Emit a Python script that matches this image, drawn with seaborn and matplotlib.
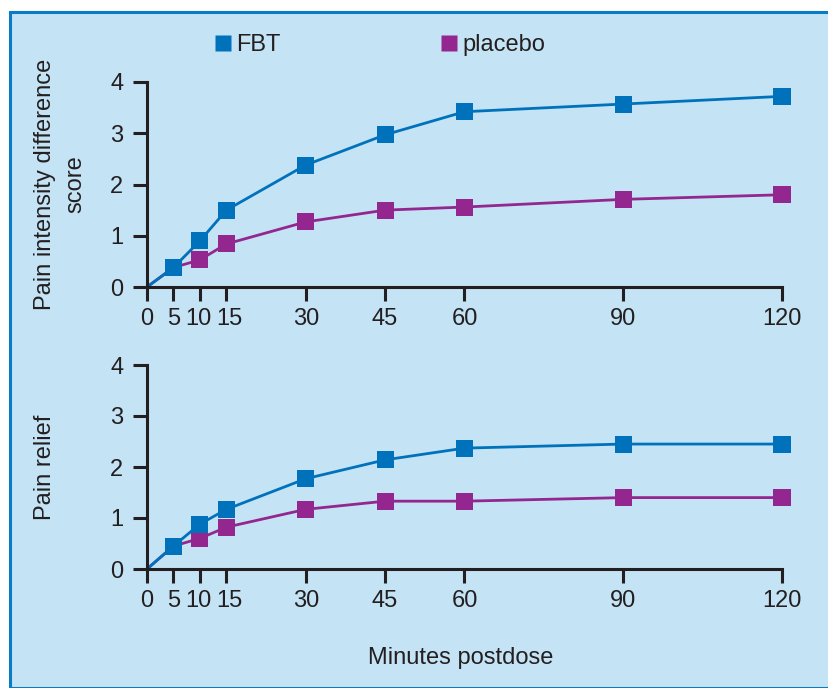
import pandas as pd
import numpy as np
import matplotlib
matplotlib.use("Agg")
import matplotlib.pyplot as plt
import matplotlib.transforms as mtransforms
from matplotlib.patches import Rectangle
from matplotlib.lines import Line2D
import seaborn as sns

minutes = [0, 5, 10, 15, 30, 45, 60, 90, 120]
pid_fbt = [0, 0.38, 0.9, 1.5, 2.38, 2.97, 3.42, 3.57, 3.72]
pid_placebo = [0, 0.38, 0.53, 0.84, 1.27, 1.5, 1.56, 1.71, 1.8]
relief_fbt = [0, 0.45, 0.88, 1.17, 1.77, 2.14, 2.37, 2.45, 2.45]
relief_placebo = [0, 0.45, 0.6, 0.82, 1.17, 1.33, 1.33, 1.4, 1.4]
groups = ["placebo", "FBT"]
yticks = [0, 1, 2, 3, 4]

blue = "#0072bc"
purple = "#93278f"
bg = "#c4e3f5"
ink = "#231f20"
palette = {"FBT": blue, "placebo": purple}
FS = 17

sns.set_style("white")
plt.rcParams['font.family'] = ['Liberation Sans', 'DejaVu Sans']
plt.rcParams['text.color'] = ink
plt.rcParams['axes.labelcolor'] = ink

def long_df(fbt, plc):
    return pd.DataFrame({
        "minutes": minutes * 2,
        "score": plc + fbt,
        "group": ["placebo"] * len(minutes) + ["FBT"] * len(minutes),
    })

df_pid = long_df(pid_fbt, pid_placebo)
df_rel = long_df(relief_fbt, relief_placebo)

fig = plt.figure(figsize=(8.29, 6.88), dpi=100)
fig.patch.set_facecolor("white")
W, H = 829, 688
fig.add_artist(Rectangle((10 / W, 0), 1, 1 - 12 / H, transform=fig.transFigure,
                         facecolor=bg, edgecolor="#0a7cc6", lw=2.2, zorder=0))

ax1 = fig.add_axes([147 / W, 1 - 287 / H, (782 - 147) / W, (287 - 82) / H])
ax2 = fig.add_axes([147 / W, 1 - 569 / H, (782 - 147) / W, (569 - 365) / H])

for ax, df, lab in [(ax1, df_pid, "Pain intensity difference\nscore"),
                    (ax2, df_rel, "Pain relief")]:
    ax.set_facecolor("none")
    sns.lineplot(data=df, x="minutes", y="score", hue="group", hue_order=groups,
                 palette=palette, lw=2, legend=False, ax=ax)
    sns.scatterplot(data=df[df.minutes > 0], x="minutes", y="score", hue="group",
                    hue_order=groups, palette=palette, marker="s", s=150,
                    linewidth=0, legend=False, ax=ax, clip_on=False, zorder=5)
    ax.set_xlim(0, 120)
    ax.set_ylim(0, 4)
    ax.set_xticks(minutes)
    ax.set_yticks(yticks)
    ax.set_xlabel("")
    ax.set_ylabel(lab, fontsize=FS, linespacing=1.5)
    ax.tick_params(axis="both", direction="out", length=10, width=2.2, color=ink,
                   labelsize=FS, labelcolor=ink, bottom=True, left=True)
    ax.tick_params(axis="x", pad=5)
    ax.tick_params(axis="y", pad=7)
    sns.despine(ax=ax)
    for s in ["left", "bottom"]:
        ax.spines[s].set_linewidth(2.2)
        ax.spines[s].set_color(ink)
    # open up the crowded 10 / 15 labels a little
    ticklabels = ax.get_xticklabels()
    for i, dx in [(2, -2), (3, 3)]:
        off = mtransforms.ScaledTranslation(dx / 100, 0, fig.dpi_scale_trans)
        ticklabels[i].set_transform(ticklabels[i].get_transform() + off)

ax1.yaxis.set_label_coords((86 - 147) / 635, 0.5)
ax2.yaxis.set_label_coords((56 - 147) / 635, 0.5)

fig.text(461 / W, 1 - 658 / H, "Minutes postdose", ha="center", va="center", fontsize=FS)

handles = [Line2D([], [], ls="none", marker="s", ms=11, mec="none", mfc=palette[g])
           for g in ["FBT", "placebo"]]
fig.legend(handles, ["FBT", "placebo"], ncol=2, loc="center left",
           bbox_to_anchor=(215 / W, 1 - 45 / H), frameon=False, fontsize=FS,
           borderpad=0, borderaxespad=0,
           handlelength=0.7, handletextpad=0.2, columnspacing=6.8)

fig.savefig("out.png", dpi=100)
